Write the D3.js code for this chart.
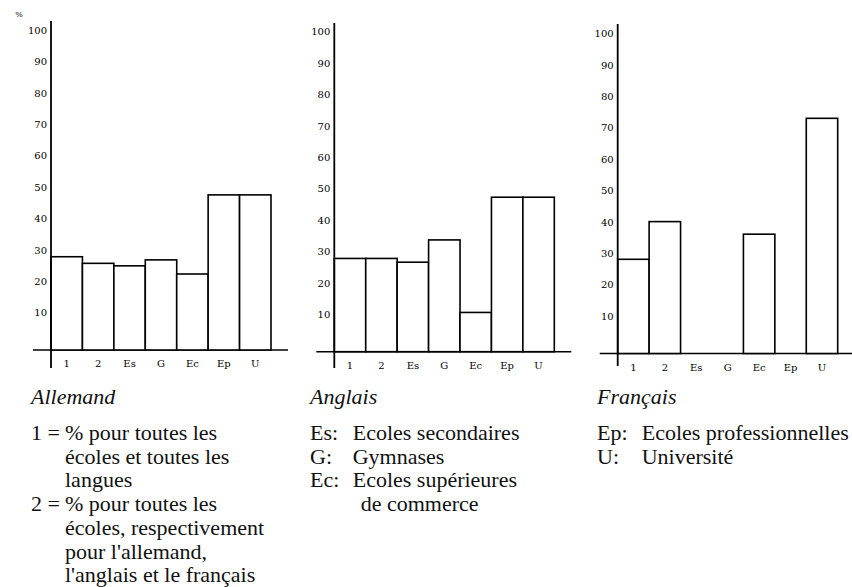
<!DOCTYPE html>
<html>
<head>
<meta charset="utf-8">
<script src="https://cdn.jsdelivr.net/npm/d3@7"></script>
<style>
  html, body { margin: 0; padding: 0; background: #fff; }
  svg { display: block; }
</style>
</head>
<body>
<svg id="chart" width="852" height="587"></svg>
<script>
// ---- data ----
const categories = ["1", "2", "Es", "G", "Ec", "Ep", "U"];
const allemandValues = [29.7, 27.6, 26.8, 28.7, 24.2, 49.4, 49.4];
const anglaisValues  = [29.7, 29.7, 28.5, 35.6, 12.5, 49.2, 49.2];
const francaisValues = [30.0, 42.0, 0, 0, 38.0, 0, 74.9];
const yTickValues = [10, 20, 30, 40, 50, 60, 70, 80, 90, 100];
const panelTitles = ["Allemand", "Anglais", "Français"];
const unitLabel = "%";

const legendAllemand = [
  { key: "1 =", lines: ["% pour toutes les", "écoles et toutes les", "langues"] },
  { key: "2 =", lines: ["% pour toutes les", "écoles, respectivement", "pour l'allemand,", "l'anglais et le français"] }
];
const legendAnglais = [
  { key: "Es:", lines: ["Ecoles secondaires"] },
  { key: "G:", lines: ["Gymnases"] },
  { key: "Ec:", lines: ["Ecoles supérieures", "de commerce"] }
];
const legendFrancais = [
  { key: "Ep:", lines: ["Ecoles professionnelles"] },
  { key: "U:", lines: ["Université"] }
];

// ---- layout ----
const svg = d3.select("#chart");
svg.append("rect").attr("width", 852).attr("height", 587).attr("fill", "#fff");

const panels = [
  { values: allemandValues, x0: 51,    base: 350,   axisTop: 21, axisBottom: 368, legend: legendAllemand, lx: 31,  tx: 65,    indent: 0 },
  { values: anglaisValues,  x0: 334.3, base: 351.7, axisTop: 23, axisBottom: 368, legend: legendAnglais,  lx: 310, tx: 352.7, indent: 8 },
  { values: francaisValues, x0: 617.7, base: 353.5, axisTop: 24, axisBottom: 366, legend: legendFrancais, lx: 597, tx: 641.7, indent: 0 }
];
const pxPerUnit = 3.14;
const bandWidth = 220;

const tickFont = "'DejaVu Serif', serif";
const textFont = "'Liberation Serif', 'Times New Roman', serif";

panels.forEach((p, i) => {
  const g = svg.append("g");
  const y = d3.scaleLinear().domain([0, 100]).range([p.base, p.base - 100 * pxPerUnit]);
  const x = d3.scaleBand().domain(categories).range([p.x0, p.x0 + bandWidth]).padding(0);

  // baseline (x axis line)
  g.append("line")
    .attr("x1", p.x0 - 18).attr("x2", Math.min(852, p.x0 + bandWidth + 17))
    .attr("y1", p.base).attr("y2", p.base)
    .attr("stroke", "#000").attr("stroke-width", 1.6);

  // bars
  const data = categories.map((c, k) => ({ c, v: p.values[k] })).filter(d => d.v > 0);
  g.selectAll("rect.bar").data(data).join("rect")
    .attr("class", "bar")
    .attr("x", d => x(d.c))
    .attr("y", d => y(d.v))
    .attr("width", x.bandwidth())
    .attr("height", d => y(0) - y(d.v))
    .attr("fill", "#fff")
    .attr("stroke", "#000")
    .attr("stroke-width", 1.6);

  // y axis
  const yAxis = d3.axisLeft(y).tickValues(yTickValues).tickSize(0).tickPadding(4).tickFormat(d3.format("d"));
  const ya = g.append("g").attr("transform", `translate(${p.x0},0)`).call(yAxis);
  ya.select(".domain").remove();
  ya.selectAll("text")
    .attr("dy", "-0.28em")
    .attr("font-family", tickFont)
    .attr("font-size", 10)
    .attr("fill", "#000");

  // y axis line
  g.append("line")
    .attr("x1", p.x0).attr("x2", p.x0)
    .attr("y1", p.axisTop).attr("y2", p.axisBottom)
    .attr("stroke", "#000").attr("stroke-width", 1.8);

  // x axis labels
  const xAxis = d3.axisBottom(x).tickSize(0).tickPadding(10);
  const xa = g.append("g").attr("transform", `translate(0,${p.base})`).call(xAxis);
  xa.select(".domain").remove();
  xa.selectAll("text")
    .attr("font-family", tickFont)
    .attr("font-size", 10)
    .attr("fill", "#000");

  // unit label (first panel only)
  if (i === 0) {
    g.append("text").attr("x", 19).attr("y", 17)
      .attr("text-anchor", "middle")
      .attr("font-family", tickFont).attr("font-size", 8)
      .attr("fill", "#000").text(unitLabel);
  }

  // panel title
  g.append("text")
    .attr("x", p.lx).attr("y", 404)
    .attr("font-family", textFont).attr("font-style", "italic")
    .attr("font-size", 22).attr("fill", "#111")
    .text(panelTitles[i]);

  // legend
  let line = 0;
  const firstY = 440, lh = 23.7;
  p.legend.forEach(item => {
    g.append("text")
      .attr("x", p.lx).attr("y", firstY + line * lh)
      .attr("font-family", textFont).attr("font-size", 22).attr("fill", "#111")
      .text(item.key);
    item.lines.forEach((t, k) => {
      g.append("text")
        .attr("x", p.tx + (k > 0 ? p.indent : 0)).attr("y", firstY + line * lh)
        .attr("font-family", textFont).attr("font-size", 22).attr("fill", "#111")
        .text(t);
      line++;
    });
  });
});
</script>
</body>
</html>
